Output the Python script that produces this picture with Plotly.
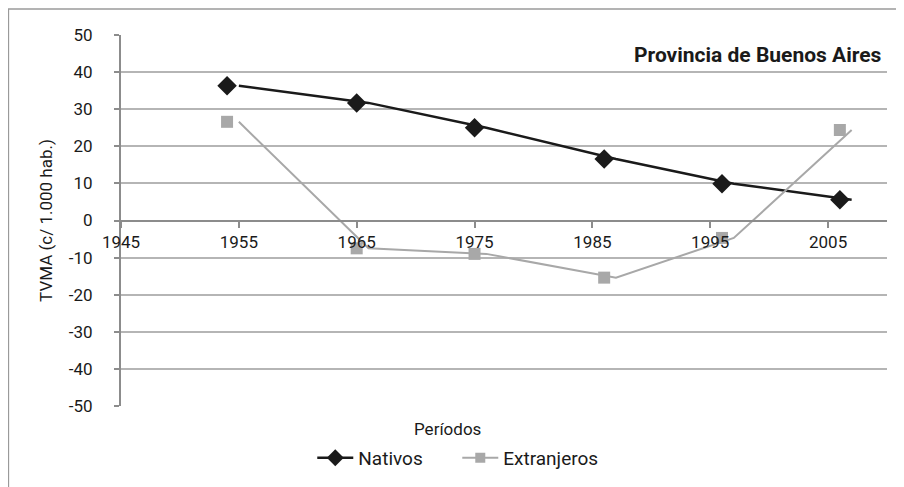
import plotly.graph_objects as go

# TVMA por periodo, Provincia de Buenos Aires
years = [1954, 1965, 1975, 1986, 1996, 2006]
nativos = [36.3, 31.7, 25.0, 16.6, 9.9, 5.6]
extranjeros = [26.6, -7.5, -9.0, -15.4, -4.7, 24.4]

x_ticks = [1945, 1955, 1965, 1975, 1985, 1995, 2005]
y_ticks = [50, 40, 30, 20, 10, 0, -10, -20, -30, -40, -50]

# in the original the line is drawn slightly to the right of the markers
line_shift = 1.0

FONT = "Roboto, 'Open Sans', sans-serif"
BLACK = "#1a1a1a"
GREY = "#a8a8a8"
AXIS = "#8c8c8c"

fig = go.Figure()

series = [
    ("Nativos", nativos, BLACK, "diamond", 15, 2.5),
    ("Extranjeros", extranjeros, GREY, "square", 12, 2),
]
for name, vals, color, sym, size, lw in series:
    fig.add_trace(go.Scatter(
        x=[y + line_shift for y in years], y=vals, mode="lines",
        line=dict(color=color, width=lw), showlegend=False, hoverinfo="skip"))
    fig.add_trace(go.Scatter(
        x=years, y=vals, mode="markers", name=name,
        marker=dict(symbol=sym, size=size, color=color), showlegend=False))
    # legend entry only
    fig.add_trace(go.Scatter(
        x=[None], y=[None], mode="lines+markers", name=name,
        line=dict(color=color, width=lw),
        marker=dict(symbol=sym, size=size - 2, color=color)))

fig.update_layout(
    width=904, height=487,
    margin=dict(l=113, r=25, t=27, b=89),
    paper_bgcolor="white", plot_bgcolor="white",
    font=dict(family=FONT, size=17, color="#1a1a1a"),
    showlegend=True,
    legend=dict(orientation="h", x=0.439, xanchor="center", y=-0.14, yanchor="middle",
                font=dict(size=19), itemwidth=36, entrywidth=94, traceorder="normal"),
    xaxis=dict(
        range=[1945, 2010], tickvals=x_ticks, ticktext=[str(v) for v in x_ticks],
        showgrid=False, zeroline=False,
        showline=True, linecolor=AXIS, linewidth=2,
        ticks="outside", ticklen=6, tickwidth=1.5, tickcolor=AXIS,
        anchor="free", position=0.5,
        tickfont=dict(size=17),
    ),
    yaxis=dict(
        range=[-50, 50], tickvals=y_ticks, ticktext=[str(v) for v in y_ticks],
        showgrid=True, gridcolor="#b5b5b5", gridwidth=2,
        zeroline=False,
        showline=True, linecolor=AXIS, linewidth=2,
        ticks="outside", ticklen=5, tickwidth=1.5, tickcolor=AXIS,
        ticklabelstandoff=18,
        tickfont=dict(size=17),
        title=dict(text="TVMA (c/ 1.000 hab.)", font=dict(size=17), standoff=12),
    ),
    annotations=[
        dict(text="<b>Provincia de Buenos Aires</b>", xref="paper", yref="paper",
             x=0.996, y=0.946, xanchor="right", yanchor="middle", showarrow=False,
             font=dict(size=21, color="#1a1a1a")),
        dict(text="Períodos", xref="paper", yref="paper",
             x=0.426, y=-0.062, xanchor="center", yanchor="middle", showarrow=False,
             font=dict(size=17)),
    ],
    shapes=[
        dict(type="rect", xref="paper", yref="paper",
             x0=-0.147, y0=-1, x1=2, y1=1.07,
             line=dict(color="#9a9a9a", width=1.5), layer="below"),
    ],
)

fig.write_html("out.html")
